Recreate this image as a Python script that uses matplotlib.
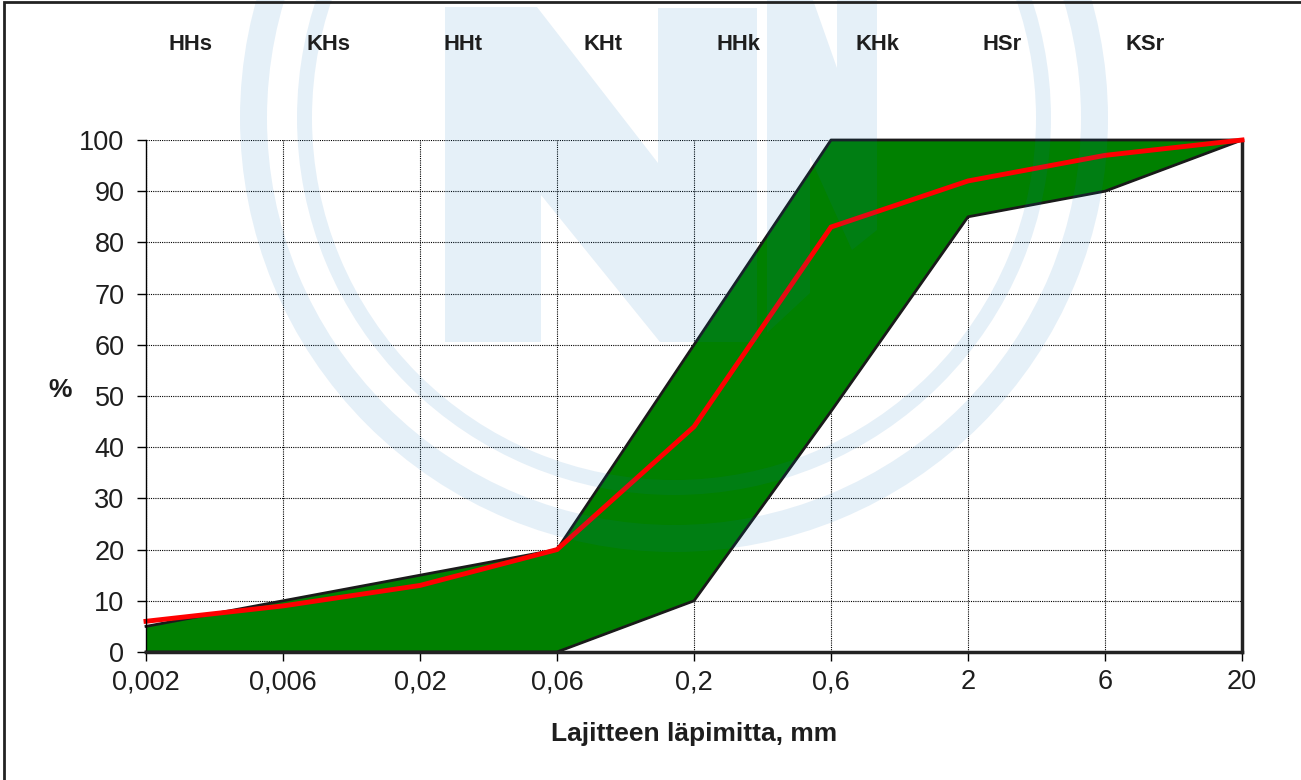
import matplotlib
matplotlib.use("Agg")
import matplotlib.pyplot as plt
from matplotlib.patches import Polygon, Wedge, Rectangle
import numpy as np

plt.rcParams['font.family'] = ['Liberation Sans', 'DejaVu Sans']

# grain sizes (mm), shown on an evenly spaced axis
sizes = ['0,002', '0,006', '0,02', '0,06', '0,2', '0,6', '2', '6', '20']
upper = [5, 10, 15, 20, 60, 100, 100, 100, 100]
lower = [0, 0, 0, 0, 10, 47, 85, 90, 100]
sample = [6, 9, 13, 20, 44, 83, 92, 97, 100]

# fraction names above the plot
fractions = ['HHs', 'KHs', 'HHt', 'KHt', 'HHk', 'KHk', 'HSr', 'KSr']
fraction_x = [191, 329, 463, 603, 738, 877, 1002, 1145]

W, H = 1301, 780
txt = '#1e1e1e'

fig = plt.figure(figsize=(W / 100, H / 100), dpi=100)
ax = fig.add_axes([146 / W, (H - 652) / H, (1242 - 146) / W, 512 / H])

x = np.arange(len(sizes))
ax.fill_between(x, lower, upper, color='#008000', zorder=2, linewidth=0)
ax.plot(x, upper, color='#1a1a1a', lw=2, zorder=3, clip_on=False)
ax.plot(x, lower, color='#1a1a1a', lw=2, zorder=3, clip_on=False)
ax.plot(x, sample, color='#ff0000', lw=3.5, zorder=4, clip_on=False,
        solid_joinstyle='miter')

ax.set_xlim(0, len(sizes) - 1)
ax.set_ylim(0, 100)
ax.set_xticks(x)
ax.set_xticklabels(sizes)
ax.set_yticks(np.arange(0, 101, 10))
ax.tick_params(axis='both', direction='out', length=6.5, width=1,
               colors='black', labelcolor=txt, labelsize=19.5)
ax.tick_params(axis='y', pad=9)
ax.tick_params(axis='x', pad=6)

ax.grid(True, color='black', linestyle=(0, (1, 1)), linewidth=0.8, zorder=1)
ax.set_axisbelow(True)
ax.spines['top'].set_visible(False)
ax.spines['left'].set_linewidth(1)
ax.spines['right'].set_linewidth(2.5)
ax.spines['right'].set_color('#222222')
ax.spines['bottom'].set_linewidth(2.5)
ax.spines['bottom'].set_color('#222222')
ax.spines['left'].set_zorder(5)
ax.spines['bottom'].set_zorder(5)

ax.set_xlabel('Lajitteen läpimitta, mm', fontsize=19, fontweight='bold',
              color=txt, labelpad=19)

fig.text(60 / W, 1 - 390 / H, '%', fontsize=19, fontweight='bold',
         color=txt, ha='center', va='center')
for name, px in zip(fractions, fraction_x):
    fig.text(px / W, 1 - 44 / H, name, fontsize=15.8, fontweight='bold',
             color=txt, ha='center', va='center')

# faint logo watermark over the chart
wm = fig.add_axes([0, 0, 1, 1], zorder=1)
wm.set_xlim(0, W)
wm.set_ylim(H, 0)
wm.axis('off')
wm.patch.set_alpha(0)
wm_col = (0.0, 0.44, 0.75)
wm_alpha = 0.1
cx, cy = 674, 118
for r_in, r_out in [(407, 434), (362, 377)]:
    wm.add_patch(Wedge((cx, cy), r_out, 0, 360, width=r_out - r_in,
                       color=wm_col, alpha=wm_alpha, lw=0))
n_shape = [(445, 7), (537, 7), (658, 163), (658, 8), (757, 8), (757, 342),
           (660, 342), (541, 195), (541, 342), (445, 342)]
wm.add_patch(Polygon(n_shape, closed=True, color=wm_col, alpha=wm_alpha, lw=0))
n2_shape = [(767, 0), (813, 0), (837, 68), (837, 0), (877, 0), (877, 230),
            (852, 250), (810, 157), (810, 293), (767, 333)]
wm.add_patch(Polygon(n2_shape, closed=True, color=wm_col, alpha=wm_alpha, lw=0))

# outer frame, only left and top edges fall inside the picture
fig.patches.append(Rectangle((4 / W, -0.05), 1.2, (H - 2) / H + 0.05,
                             transform=fig.transFigure, fill=False,
                             edgecolor='#222222', lw=2))

fig.savefig('out.png', dpi=100)
